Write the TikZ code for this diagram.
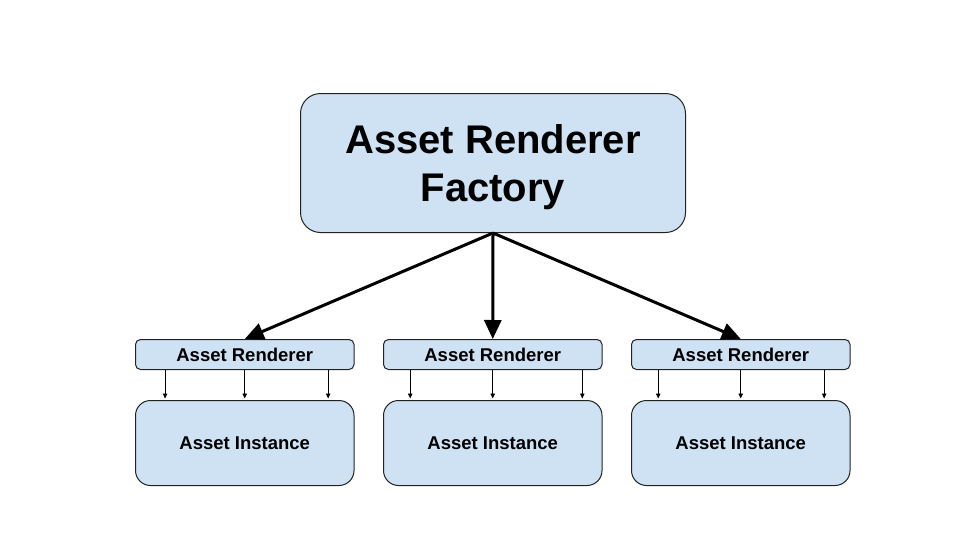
\documentclass[tikz,border=0pt]{standalone}
\usepackage{fontspec}
\setmainfont{Liberation Sans}
\usetikzlibrary{arrows.meta,calc}
\definecolor{boxfill}{HTML}{CFE2F3}
\definecolor{boxline}{HTML}{222222}
\tikzset{
  box/.style={draw=boxline, line width=1pt, fill=boxfill, anchor=north west, inner sep=0pt, align=center, font=\bfseries},
  bigarrow/.style={line width=3pt, -{Triangle[length=19pt,width=17pt]}},
  smallarrow/.style={line width=0.9pt, -{Triangle[length=5pt,width=4.5pt]}, shorten >=1.5pt},
}
\begin{document}
\begin{tikzpicture}[x=1pt,y=-1pt]
\useasboundingbox (0,0) rectangle (963,549);
\node[box, rounded corners=20pt, minimum width=385pt, minimum height=139pt, text depth=0pt, font=\bfseries\fontsize{40}{48}\selectfont] (f) at (300,93) {Asset Renderer\\Factory};
\foreach \i/\x in {1/135,2/383,3/631}{
  \node[box, rounded corners=5pt, minimum width=218.5pt, minimum height=30pt, font=\bfseries\fontsize{18.5}{22}\selectfont] (r\i) at (\x,339) {Asset Renderer};
  \node[box, rounded corners=15pt, minimum width=218.5pt, minimum height=85pt, font=\bfseries\fontsize{18.5}{22}\selectfont] (i\i) at (\x,400) {Asset Instance};
}
\coordinate (fb) at (f.south);
\draw[bigarrow] (fb) -- (r1.north);
\draw[bigarrow] (fb) -- (r2.north);
\draw[bigarrow] (fb) -- (r3.north);
\foreach \i/\a/\c in {1/0.137/0.88,2/0.124/0.908,3/0.124/0.88}{
  \foreach \t in {\a,0.5,\c}{
    \draw[smallarrow] ($(r\i.south west)!\t!(r\i.south east)$) -- ($(i\i.north west)!\t!(i\i.north east)$);
  }
}
\end{tikzpicture}
\end{document}
